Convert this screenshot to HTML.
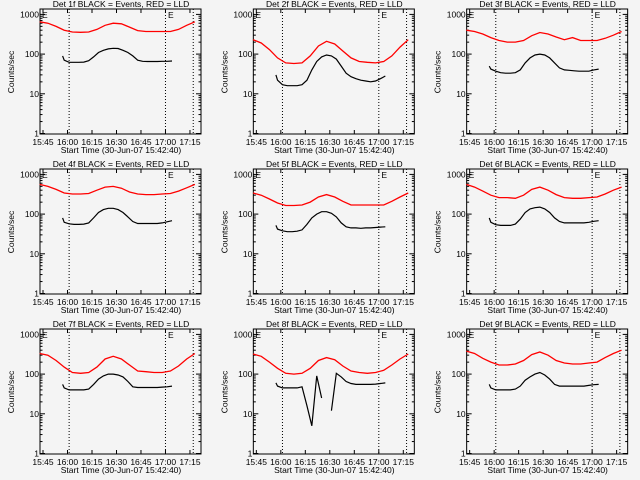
<!DOCTYPE html>
<html><head><meta charset="utf-8"><style>
body{margin:0;background:#f4f4f4;}
svg{display:block;}
text{font-family:"Liberation Sans",sans-serif;font-size:8.5px;fill:#000;}
</style></head><body>
<svg id="chart" width="640" height="480" xmlns="http://www.w3.org/2000/svg">
<rect width="640" height="480" fill="#f4f4f4"/>
</svg>
<script>
// minutes since 15:45
const redTimes=[-2,3,8,13,18,23,28,33,38,43,48,53,58,63,68,73,78,83,88,93];
const blackTimes=[12,13,16,19,22,25,28,31,34,37,40,43,46,49,52,55,58,61,64,67,70,73,76,79];
const detLabels=["1f","2f","3f","4f","5f","6f","7f","8f","9f"];
const redSeries=[
[650,600,500,400,360,355,360,420,530,600,580,480,390,370,370,370,370,420,530,650],
[230,190,130,80,60,58,60,90,160,210,180,120,80,65,62,60,65,90,150,230],
[400,370,320,260,220,200,200,220,290,350,320,270,230,260,220,220,220,250,300,370],
[560,500,420,340,320,320,330,400,480,500,450,360,320,310,310,320,330,380,460,560],
[340,300,240,190,165,165,170,200,270,310,270,210,170,170,170,170,170,210,270,340],
[560,480,380,300,260,260,250,300,420,480,400,310,260,250,250,260,270,320,400,480],
[330,300,220,150,110,105,110,150,240,280,240,170,120,115,110,110,120,160,240,330],
[320,280,200,140,105,100,105,140,220,260,230,160,120,110,105,110,125,170,240,320],
[380,330,250,200,170,170,180,220,310,360,300,220,190,180,180,190,200,260,330,400]
];
const blackSeries=[
[90,70,62,62,62,63,68,85,110,125,135,140,138,125,110,90,70,66,65,65,65,66,66,67],
[30,22,17,16,16,16,17,22,40,65,85,95,90,75,50,33,27,24,22,21,20,21,24,28],
[50,42,37,34,33,33,34,40,60,80,95,100,95,80,60,45,40,39,38,37,37,37,40,42],
[80,62,57,55,55,56,60,80,110,130,140,140,130,110,85,65,58,58,58,58,58,60,64,68],
[52,42,38,36,36,37,40,55,80,100,115,115,105,85,60,48,45,45,44,45,45,46,47,48],
[80,62,54,52,52,52,56,75,110,135,145,150,135,110,80,65,60,60,60,60,60,62,66,68],
[55,45,40,40,40,40,42,55,75,90,100,100,95,85,65,48,46,46,46,46,46,47,48,50],
[60,50,45,45,45,45,48,16,5,90,25,null,12,105,85,65,58,55,55,55,55,56,58,60],
[55,45,40,40,40,40,42,50,70,85,100,110,95,75,55,50,50,50,50,50,50,52,54,55]
];
const xTickLabels=["15:45","16:00","16:15","16:30","16:45","17:00","17:15"];
const xTickMinutes=[0,15,30,45,60,75,90];
const yTickValues=[1,10,100,1000];
const dottedMinutes=[16,75,92];

const svg=document.getElementById('chart');
const NS="http://www.w3.org/2000/svg";
function mk(tag,attrs,parent){const e=document.createElementNS(NS,tag);for(const k in attrs)e.setAttribute(k,attrs[k]);parent.appendChild(e);return e;}
const L=40,R=201,T=9,B=134;
function xs(m){return 43+m*1.633;}
function ys(v){return 133.5-39.7*Math.log10(v);}

for(let p=0;p<9;p++){
  const col=p%3,row=Math.floor(p/3);
  const g=mk('g',{transform:`translate(${(col*213.33).toFixed(2)},${row*160})`},svg);
  
  
  const t=mk('text',{x:121,y:7,'text-anchor':'middle','font-size':'8.5'},g);t.textContent=`Det ${detLabels[p]} BLACK = Events, RED = LLD`;
  
  const yl=mk('text',{x:0,y:0,'text-anchor':'middle',transform:'translate(14,72) rotate(-90)','font-size':'7'},g);yl.textContent='Counts/sec';
  
  const xl=mk('text',{x:121,y:153,'text-anchor':'middle','font-size':'8'},g);xl.textContent='Start Time (30-Jun-07 15:42:40)';
  
  const box=mk('rect',{x:L,y:T,width:R-L,height:B-T,fill:'none',stroke:'#000','stroke-width':1},g);
  
  yTickValues.forEach(v=>{
    const y=ys(v);
    mk('line',{x1:L,x2:L+5,y1:y,y2:y,stroke:'#000'},g);
    mk('line',{x1:R-5,x2:R,y1:y,y2:y,stroke:'#000'},g);
    const tl=mk('text',{x:L-1,y:y+3,'text-anchor':'end','font-size':'7'},g);tl.textContent=v;
    
    if(v<1000)for(let k=2;k<10;k++){const yy=ys(v*k);
      mk('line',{x1:L,x2:L+2.5,y1:yy,y2:yy,stroke:'#000'},g);
      mk('line',{x1:R-2.5,x2:R,y1:yy,y2:yy,stroke:'#000'},g);}
  });
  xTickMinutes.forEach((m,i)=>{
    const x=xs(m);
    mk('line',{x1:x,x2:x,y1:B,y2:B-4,stroke:'#000'},g);
    mk('line',{x1:x,x2:x,y1:T,y2:T+4,stroke:'#000'},g);
    const tl=mk('text',{x:x,y:145,'text-anchor':'middle','font-size':'7'},g);tl.textContent=xTickLabels[i];
    
  });
  dottedMinutes.forEach(m=>{
    const d=mk('line',{x1:xs(m),x2:xs(m),y1:T,y2:B,stroke:'#000','stroke-dasharray':'1,2'},g);
    
  });
  [[42,'E'],[168,'E']].forEach(([x,s])=>{const e=mk('text',{x:x,y:18,'font-size':'11'},g);e.textContent=s;
    });
  let pts=redTimes.map((m,i)=>xs(m).toFixed(1)+','+ys(redSeries[p][i]).toFixed(1)).join(' ');
  const rl=mk('polyline',{points:pts,fill:'none',stroke:'#f00','stroke-width':1.3},g);
  
  let seg=[];const segs=[];
  blackTimes.forEach((m,i)=>{const v=blackSeries[p][i];
    if(v==null){if(seg.length)segs.push(seg);seg=[];}else seg.push(xs(m).toFixed(1)+','+ys(v).toFixed(1));});
  if(seg.length)segs.push(seg);
  segs.forEach(s=>{const bl=mk('polyline',{points:s.join(' '),fill:'none',stroke:'#000','stroke-width':1.2},g);
    });
}
</script>
</body></html>
